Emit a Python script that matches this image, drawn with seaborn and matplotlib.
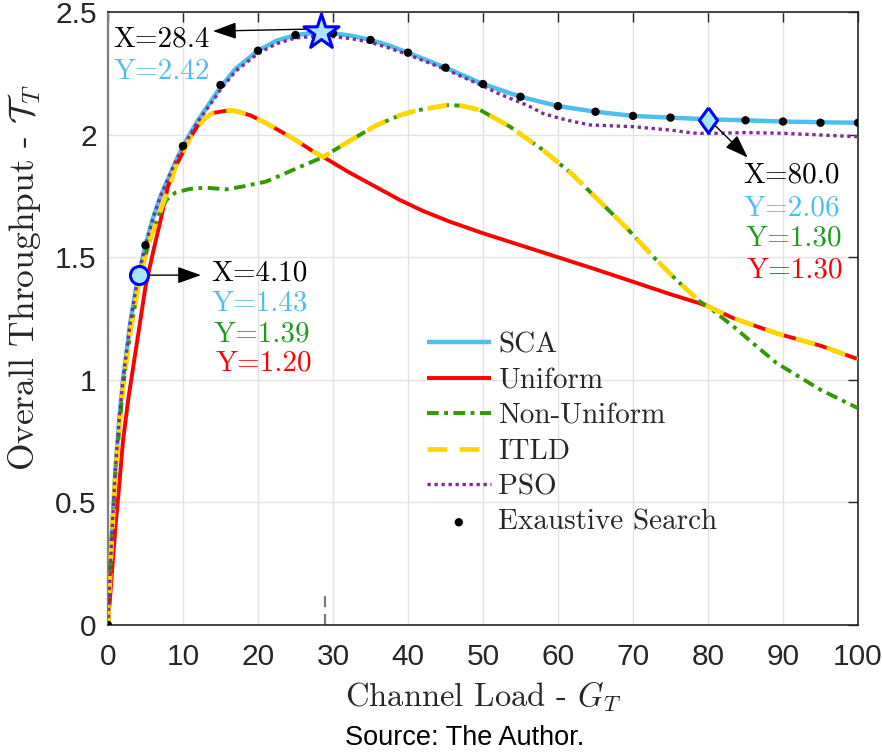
import matplotlib
matplotlib.use("Agg")
import matplotlib.pyplot as plt
import seaborn as sns
import pandas as pd

# ---------------- data ----------------
sca_x = [0, 0.5, 1, 1.5, 2, 3, 4, 4.1, 5, 6, 7, 8, 9, 10, 12, 14, 15, 17, 20, 22.5, 25,
         28.4, 30, 32.5, 35, 37.5, 40, 45, 50, 55, 60, 65, 70, 75, 80, 85, 90, 95, 100]
sca_y = [0, 0.36, 0.64, 0.84, 1.0, 1.24, 1.42, 1.43, 1.55, 1.66, 1.75, 1.82, 1.89, 1.955,
         2.06, 2.15, 2.195, 2.27, 2.344, 2.385, 2.408, 2.42, 2.415, 2.405, 2.388, 2.365,
         2.336, 2.275, 2.208, 2.156, 2.118, 2.095, 2.078, 2.071, 2.064, 2.06, 2.055, 2.052, 2.05]

uni_x = [0, 0.5, 1, 1.5, 2, 2.7, 3.5, 4.1, 5, 6, 7, 8, 9, 10, 11, 12, 13, 14, 16, 17, 19,
         21.1, 23, 25, 27.4, 29, 32, 35, 38.9, 42, 45.6, 50, 55, 59.8, 65, 70, 75, 78.9, 80,
         83.4, 89.2, 95, 100]
uni_y = [0, 0.2, 0.4, 0.57, 0.75, 0.92, 1.08, 1.20, 1.38, 1.52, 1.65, 1.79, 1.87, 1.93,
         1.99, 2.04, 2.07, 2.09, 2.10, 2.098, 2.08, 2.048, 2.015, 1.98, 1.932, 1.905, 1.85,
         1.80, 1.735, 1.69, 1.646, 1.599, 1.55, 1.503, 1.452, 1.401, 1.35, 1.313, 1.30,
         1.252, 1.19, 1.14, 1.085]

non_x = [0, 0.5, 1, 2, 3, 4.1, 5, 6, 7, 7.8, 9, 10.9, 13, 15.8, 18, 21.1, 23, 25.6, 28.7,
         30, 33, 35.8, 38.9, 41.1, 45.2, 47, 49.6, 53.6, 58, 62, 65.6, 69.2, 72.7, 75.8,
         78.9, 80, 83.4, 86, 89.1, 95, 100]
non_y = [0, 0.35, 0.62, 0.97, 1.2, 1.39, 1.51, 1.61, 1.69, 1.735, 1.765, 1.78, 1.785, 1.778,
         1.79, 1.81, 1.835, 1.87, 1.91, 1.935, 1.99, 2.04, 2.08, 2.10, 2.122, 2.12, 2.102,
         2.034, 1.939, 1.837, 1.728, 1.619, 1.503, 1.408, 1.32, 1.30, 1.218, 1.15, 1.07,
         0.96, 0.885]

itld_x = [0, 0.5, 1, 2, 3, 4.1, 5, 6, 7, 7.8, 8.5, 9, 10, 11, 12, 13, 14, 16, 17, 19, 21.1,
          23, 25, 27.4, 28.7, 30, 33, 35.8, 38.9, 41.1, 45.2, 47, 49.6, 53.6, 58, 62, 65.6,
          69.2, 72.7, 75.8, 78.9, 80, 83.4, 89.2, 95, 100]
itld_y = [0, 0.35, 0.62, 0.97, 1.2, 1.39, 1.51, 1.61, 1.69, 1.76, 1.82, 1.87, 1.93, 1.99,
          2.04, 2.07, 2.09, 2.10, 2.098, 2.08, 2.048, 2.015, 1.98, 1.932, 1.91, 1.935, 1.99,
          2.04, 2.08, 2.10, 2.122, 2.12, 2.102, 2.034, 1.939, 1.837, 1.728, 1.619, 1.503,
          1.408, 1.32, 1.30, 1.252, 1.19, 1.14, 1.085]

pso_x = [0, 0.5, 1, 1.5, 2, 3, 4, 5, 6, 7, 8, 9, 10, 12, 14, 15, 17, 20, 22.5, 25, 28.4,
         30, 32.5, 35, 37.5, 40, 45, 50, 52, 54, 56, 58, 60, 62, 64.3, 70, 75, 78, 80, 85,
         90, 95, 100]
pso_y = [0, 0.36, 0.64, 0.84, 1.0, 1.24, 1.42, 1.55, 1.66, 1.75, 1.82, 1.89, 1.95, 2.055,
         2.14, 2.185, 2.26, 2.333, 2.373, 2.396, 2.405, 2.402, 2.393, 2.378, 2.355, 2.328,
         2.268, 2.20, 2.17, 2.145, 2.12, 2.088, 2.07, 2.055, 2.041, 2.034, 2.02, 2.008,
         2.006, 2.01, 2.007, 2.0, 1.993]

es_x = [0, 5, 10, 15, 20, 25, 30, 35, 40, 45, 50, 55, 60, 65, 70, 75, 80, 85, 90, 95, 100]
es_y = [0, 1.55, 1.955, 2.204, 2.344, 2.408, 2.415, 2.388, 2.336, 2.275, 2.208, 2.156,
        2.118, 2.095, 2.078, 2.071, 2.064, 2.06, 2.055, 2.05, 2.05]

# highlighted points
star_x, star_y = [28.4], [2.42]
circ_x, circ_y = [4.1], [1.43]
diam_x, diam_y = [80.0], [2.06]
mark_x, mark_y = [29, 29], [0.0, 0.125]

series_labels = ["SCA", "Uniform", "Non-Uniform", "ITLD", "PSO", "Exaustive Search"]
x_ticks = [0, 10, 20, 30, 40, 50, 60, 70, 80, 90, 100]
y_ticks = [0, 0.5, 1, 1.5, 2, 2.5]
y_tick_labels = ["0", "0.5", "1", "1.5", "2", "2.5"]

# ---------------- styling ----------------
sns.set_style("white")
plt.rcParams["mathtext.fontset"] = "cm"
plt.rcParams["font.family"] = ["Liberation Sans", "DejaVu Sans"]
plt.rcParams["axes.unicode_minus"] = False

C_SCA = "#4DBEEE"
C_UNI = "#FF0000"
C_NON = "#339900"
C_ITLD = "#FFD700"
C_PSO = "#7E2F8E"
C_TXT_GREEN = "#1E9A1E"
SERIF = "cmr10"

fig = plt.figure(figsize=(8.82, 7.53), dpi=100)
ax = fig.add_axes([0.1224, 0.170, 0.8504, 0.8134])

sns.lineplot(x=sca_x, y=sca_y, ax=ax, color=C_SCA, lw=3.2, label=series_labels[0],
             solid_capstyle="butt", zorder=2)
sns.lineplot(x=uni_x, y=uni_y, ax=ax, color=C_UNI, lw=2.8, label=series_labels[1],
             solid_capstyle="butt", zorder=3)
sns.lineplot(x=non_x, y=non_y, ax=ax, color=C_NON, lw=2.8, label=series_labels[2],
             linestyle=(0, (3.0, 1.4, 1.0, 1.4)), zorder=4)
sns.lineplot(x=itld_x, y=itld_y, ax=ax, color=C_ITLD, lw=3.4, label=series_labels[3],
             linestyle=(0, (4.2, 2.6)), zorder=5)
sns.lineplot(x=pso_x, y=pso_y, ax=ax, color=C_PSO, lw=2.4, label=series_labels[4],
             linestyle=(0, (1.0, 1.1)), zorder=6)
sns.scatterplot(x=es_x, y=es_y, ax=ax, color="black", s=36, edgecolor="none",
                label=series_labels[5], zorder=7)

# small dashed marker near x=29
ax.plot(mark_x, mark_y, color="#7a7a7a", lw=1.6, ls=(0, (5, 3)), zorder=1)

# highlighted markers
sns.scatterplot(x=star_x, y=star_y, ax=ax, marker="*", s=700, color="#A8E6FF",
                edgecolor="#0000FF", linewidth=2.2, zorder=9, legend=False)
sns.scatterplot(x=circ_x, y=circ_y, ax=ax, marker="o", s=170, color="#A8E6FF",
                edgecolor="#0000FF", linewidth=2.2, zorder=9, legend=False)
diamond = [(0, 1), (0.72, 0), (0, -1), (-0.72, 0), (0, 1)]
sns.scatterplot(x=diam_x, y=diam_y, ax=ax, marker=diamond, s=330, color="#A8E6FF",
                edgecolor="#0000FF", linewidth=2.2, zorder=9, legend=False)

# arrows
aprops = dict(arrowstyle="-|>,head_length=0.9,head_width=0.32", color="black", lw=1.0,
              mutation_scale=16, shrinkA=0, shrinkB=0)
ax.annotate("", xy=(14.0, 2.424), xytext=(26.5, 2.432), arrowprops=aprops, zorder=8)
ax.annotate("", xy=(12.4, 1.428), xytext=(5.6, 1.428), arrowprops=aprops, zorder=8)
ax.annotate("", xy=(85.3, 1.908), xytext=(80.9, 2.04), arrowprops=aprops, zorder=8)

fs_ann = 21
def t(x, y, s, c):
    ax.text(x, y, s, color=c, fontsize=fs_ann, family=SERIF, ha="center", va="center",
            zorder=10)

t(7.2, 2.39, "X=28.4", "black")
t(7.2, 2.257, "Y=2.42", C_SCA)
t(20.2, 1.435, "X=4.10", "black")
t(20.2, 1.313, "Y=1.43", C_SCA)
t(20.5, 1.185, "Y=1.39", C_TXT_GREEN)
t(20.8, 1.066, "Y=1.20", C_UNI)
t(91.1, 1.837, "X=80.0", "black")
t(91.2, 1.702, "Y=2.06", C_SCA)
t(91.5, 1.580, "Y=1.30", C_TXT_GREEN)
t(91.6, 1.449, "Y=1.30", C_UNI)

# axes
ax.set_xlim(0, 100)
ax.set_ylim(0, 2.5)
ax.set_xticks(x_ticks)
ax.set_yticks(y_ticks)
ax.set_yticklabels(y_tick_labels)
ax.grid(True, color="#E3E3E3", lw=1.0, zorder=0)
ax.set_axisbelow(True)
ax.tick_params(direction="in", length=7, width=1.0, top=True, right=True,
               labelsize=21.5, colors="#262626", labelcolor="#262626")
ax.tick_params(axis="x", pad=13)
ax.tick_params(axis="y", pad=8)
for side in ["top", "right", "bottom"]:
    ax.spines[side].set_color("#262626")
    ax.spines[side].set_linewidth(1.2)
ax.spines["left"].set_color("#808080")
ax.spines["left"].set_linewidth(1.6)

ax.set_xlabel("Channel Load - $G_T$", family=SERIF, fontsize=23.5, color="#262626",
              labelpad=6)
ax.set_ylabel(r"Overall Throughput - $\mathcal{T}_T$", family=SERIF, fontsize=25.5,
              color="#262626")
ax.yaxis.set_label_coords(-0.086, 0.567)

handles, labels = ax.get_legend_handles_labels()
leg = ax.legend(handles, labels, loc="upper left", bbox_to_anchor=(0.425, 0.478),
                frameon=False, prop={"family": SERIF, "size": 21}, handlelength=2.2,
                handletextpad=0.25, labelspacing=0.31, borderpad=0, borderaxespad=0,
                markerscale=1.0)

fig.text(0.527, 1 - 738 / 753, "Source: The Author.", ha="center", va="center",
         fontsize=19.5, color="black")

fig.savefig("out.png", dpi=100)
